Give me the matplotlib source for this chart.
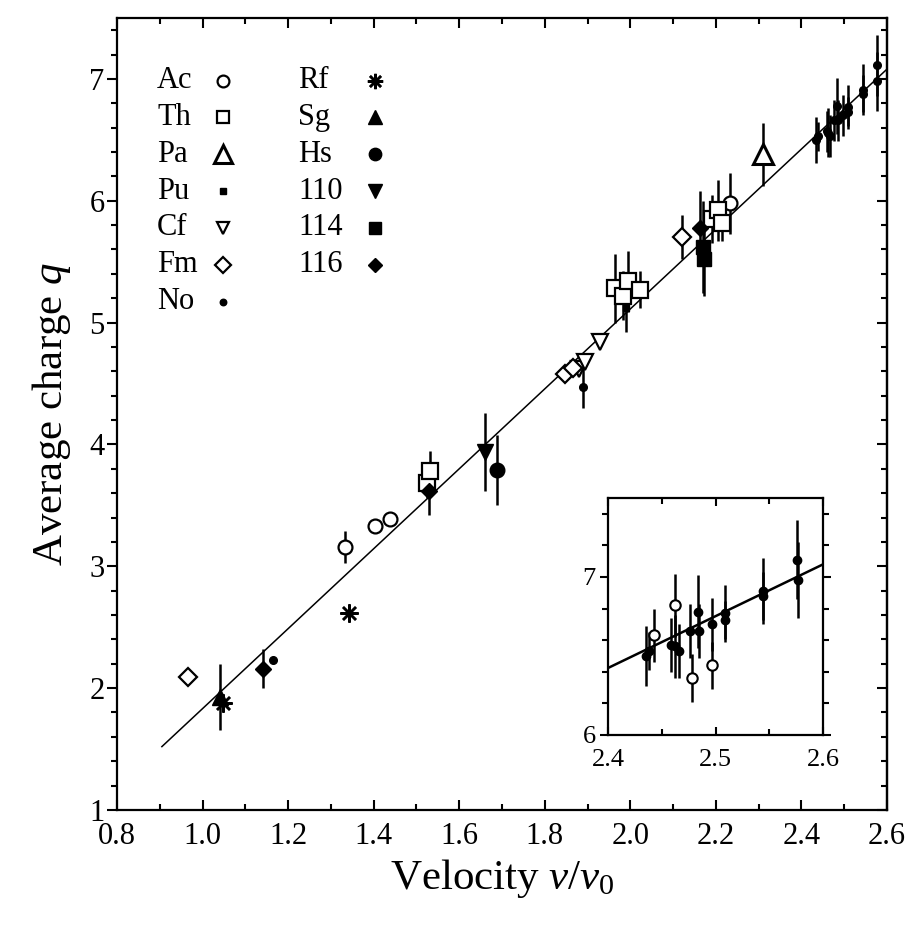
import numpy as np
import matplotlib
matplotlib.use("Agg")
import matplotlib.pyplot as plt
from matplotlib.ticker import MultipleLocator

plt.rcParams['font.family'] = ['Liberation Serif', 'DejaVu Serif']
plt.rcParams['mathtext.fontset'] = 'custom'
plt.rcParams['mathtext.rm'] = 'Liberation Serif'
plt.rcParams['mathtext.it'] = 'Liberation Serif:italic'

# --------------------------------------------------------------------------
# data (v/v0, average charge q, error)
# --------------------------------------------------------------------------
ac_v = [1.333, 1.403, 1.438, 2.233]
ac_q = [3.16, 3.33, 3.39, 5.98]
ac_err = [0.13, 0.0, 0.0, 0.25]

th_v = [1.525, 1.532, 1.965, 1.983, 1.994, 2.023, 2.190, 2.205, 2.215]
th_q = [3.68, 3.78, 5.28, 5.22, 5.34, 5.27, 5.85, 5.92, 5.82]
th_err = [0.12, 0.17, 0.28, 0.20, 0.25, 0.15, 0.20, 0.25, 0.15]

pa_v = [2.310]
pa_q = [6.38]
pa_err = [0.26]

pu_v = [1.990]
pu_q = [5.12]
pu_err = [0.20]

cf_v = [1.880, 1.893, 1.929]
cf_q = [4.62, 4.68, 4.84]

fm_v = [0.967, 1.847, 1.866, 2.121]
fm_q = [2.09, 4.58, 4.63, 5.70]
fm_err = [0.0, 0.0, 0.0, 0.18]

no_v = [1.165, 1.889, 2.435, 2.438, 2.459, 2.462, 2.466, 2.476, 2.484,
        2.485, 2.497, 2.509, 2.509, 2.544, 2.544, 2.576, 2.577]
no_q = [2.23, 4.47, 6.50, 6.53, 6.57, 6.56, 6.53, 6.66, 6.78,
        6.66, 6.70, 6.77, 6.73, 6.91, 6.88, 7.11, 6.98]
no_err = [0.0, 0.17, 0.19, 0.12, 0.17, 0.20, 0.17, 0.17, 0.23,
          0.17, 0.17, 0.18, 0.12, 0.21, 0.15, 0.25, 0.24]

rf_v = [1.048, 1.342]
rf_q = [1.88, 2.62]

sg_v = [1.041]
sg_q = [1.93]
sg_err = [0.27]

hs_v = [1.688]
hs_q = [3.79]
hs_err = [0.29]

e110_v = [1.660]
e110_q = [3.94]
e110_err = [0.32]

e114_v = [2.170, 2.172]
e114_q = [5.62, 5.52]
e114_err = [0.38, 0.30]

e116_v = [1.141, 1.530, 2.163]
e116_q = [2.16, 3.62, 5.78]
e116_err = [0.16, 0.20, 0.30]

# open symbols only seen in the inset
inset_open_v = [2.443, 2.462, 2.478, 2.497]
inset_open_q = [6.63, 6.82, 6.36, 6.44]
inset_open_err = [0.17, 0.20, 0.15, 0.15]

# straight-line fit drawn through the data
fit_v = [0.905, 2.60]
fit_q = [1.52, 7.08]

legend_col1 = ['Ac', 'Th', 'Pa', 'Pu', 'Cf', 'Fm', 'No']
legend_col2 = ['Rf', 'Sg', 'Hs', '110', '114', '116']

# --------------------------------------------------------------------------
# marker styles per element
# --------------------------------------------------------------------------
ew = 1.6
styles = {
    'Ac': dict(marker='o', ms=10, mfc='white', mec='black', mew=ew),
    'Th': dict(marker='s', ms=11, mfc='white', mec='black', mew=ew),
    'Pa': dict(marker='^', ms=15, mfc='white', mec='black', mew=2.2),
    'Pu': dict(marker='s', ms=5, mfc='black', mec='black', mew=1),
    'Cf': dict(marker='v', ms=11, mfc='white', mec='black', mew=ew),
    'Fm': dict(marker='D', ms=9, mfc='white', mec='black', mew=ew),
    'No': dict(marker='o', ms=5.5, mfc='black', mec='black', mew=1),
    'Rf': dict(marker=(8, 2, 0), ms=13, mfc='black', mec='black', mew=1.8),
    'Sg': dict(marker='^', ms=12, mfc='black', mec='black', mew=1),
    'Hs': dict(marker='o', ms=10.5, mfc='black', mec='black', mew=1),
    '110': dict(marker='v', ms=12, mfc='black', mec='black', mew=1),
    '114': dict(marker='s', ms=10, mfc='black', mec='black', mew=1),
    '116': dict(marker='D', ms=8.5, mfc='black', mec='black', mew=1),
}

series = [
    ('Ac', ac_v, ac_q, ac_err),
    ('Th', th_v, th_q, th_err),
    ('Pa', pa_v, pa_q, pa_err),
    ('Pu', pu_v, pu_q, pu_err),
    ('Cf', cf_v, cf_q, None),
    ('Fm', fm_v, fm_q, fm_err),
    ('No', no_v, no_q, no_err),
    ('Rf', rf_v, rf_q, None),
    ('Sg', sg_v, sg_q, sg_err),
    ('Hs', hs_v, hs_q, hs_err),
    ('110', e110_v, e110_q, e110_err),
    ('114', e114_v, e114_q, e114_err),
    ('116', e116_v, e116_q, e116_err),
]

fig = plt.figure(figsize=(9.16, 9.26), dpi=100)
ax = fig.add_axes([0.1277, 0.1253, 0.8406, 0.8553])

ax.plot(fit_v, fit_q, color='black', lw=1.1, zorder=2)

for name, v, q, err in series:
    if err is not None:
        ax.errorbar(v, q, yerr=err, fmt='none', ecolor='black', elinewidth=1.8,
                    capsize=0, zorder=3)
    ax.plot(v, q, ls='none', zorder=4, **styles[name])

ax.set_xlim(0.8, 2.6)
ax.set_ylim(1.0, 7.5)
ax.xaxis.set_major_locator(MultipleLocator(0.2))
ax.xaxis.set_minor_locator(MultipleLocator(0.1))
ax.yaxis.set_major_locator(MultipleLocator(1))
ax.yaxis.set_minor_locator(MultipleLocator(0.2))
ax.xaxis.set_major_formatter(matplotlib.ticker.FormatStrFormatter('%.1f'))

for s in ax.spines.values():
    s.set_linewidth(1.6)
ax.tick_params(axis='x', which='both', direction='in', top=True, width=1.5,
               labelsize=22, pad=9)
ax.tick_params(axis='x', which='major', length=7)
ax.tick_params(axis='x', which='minor', length=4)
ax.tick_params(axis='y', which='both', direction='out', right=False, width=1.5,
               labelsize=22, pad=2)
ax.tick_params(axis='y', which='major', length=7)
ax.tick_params(axis='y', which='minor', length=4)
# right spine carries inward ticks
sec = ax.secondary_yaxis('right')
sec.yaxis.set_major_locator(MultipleLocator(1))
sec.yaxis.set_minor_locator(MultipleLocator(0.2))
sec.tick_params(which='both', direction='in', width=1.5, labelright=False)
sec.tick_params(which='major', length=7)
sec.tick_params(which='minor', length=4)
sec.spines['right'].set_linewidth(1.6)

ax.set_xlabel(r'Velocity $v$/$v_{\rm 0}$', fontsize=31, labelpad=4)
ax.set_ylabel(r'Average charge $q$', fontsize=31, labelpad=12)

# hand-drawn legend in two columns
row_y = [0.921 - 0.0465 * i for i in range(7)]
for i, name in enumerate(legend_col1):
    ax.text(0.052, row_y[i], name, transform=ax.transAxes, fontsize=22,
            va='center', ha='left')
    st = dict(styles[name])
    st['ms'] = st['ms'] * 0.85
    ax.plot([0.138], [row_y[i]], transform=ax.transAxes, ls='none', **st)
for i, name in enumerate(legend_col2):
    ax.text(0.235, row_y[i], name, transform=ax.transAxes, fontsize=22,
            va='center', ha='left')
    st = dict(styles[name])
    st['ms'] = st['ms'] * 0.85
    ax.plot([0.335], [row_y[i]], transform=ax.transAxes, ls='none', **st)

# --------------------------------------------------------------------------
# inset: zoom on the high-velocity No data
# --------------------------------------------------------------------------
axin = fig.add_axes([0.6638, 0.2063, 0.2347, 0.2559])
axin.plot(fit_v, fit_q, color='black', lw=1.8, zorder=2)
axin.errorbar(no_v, no_q, yerr=no_err, fmt='none', ecolor='black',
              elinewidth=1.8, capsize=0, zorder=3)
axin.plot(no_v, no_q, ls='none', marker='o', ms=6, mfc='black', mec='black',
          zorder=4)
axin.errorbar(inset_open_v, inset_open_q, yerr=inset_open_err, fmt='none',
              ecolor='black', elinewidth=1.8, capsize=0, zorder=3)
axin.plot(inset_open_v, inset_open_q, ls='none', marker='o', ms=7.5,
          mfc='white', mec='black', mew=1.5, zorder=4)
axin.set_xlim(2.4, 2.6)
axin.set_ylim(6.0, 7.5)
axin.xaxis.set_major_locator(MultipleLocator(0.1))
axin.xaxis.set_minor_locator(MultipleLocator(0.05))
axin.yaxis.set_major_locator(MultipleLocator(1))
axin.yaxis.set_minor_locator(MultipleLocator(0.2))
for s in axin.spines.values():
    s.set_linewidth(1.6)
axin.tick_params(axis='x', which='both', direction='in', top=True, width=1.5,
                 labelsize=19, pad=10)
axin.tick_params(axis='y', which='both', direction='out', right=True,
                 width=1.5, labelsize=19, pad=3)
axin.tick_params(which='major', length=6)
axin.tick_params(which='minor', length=4)

fig.savefig('out.png', dpi=100)
